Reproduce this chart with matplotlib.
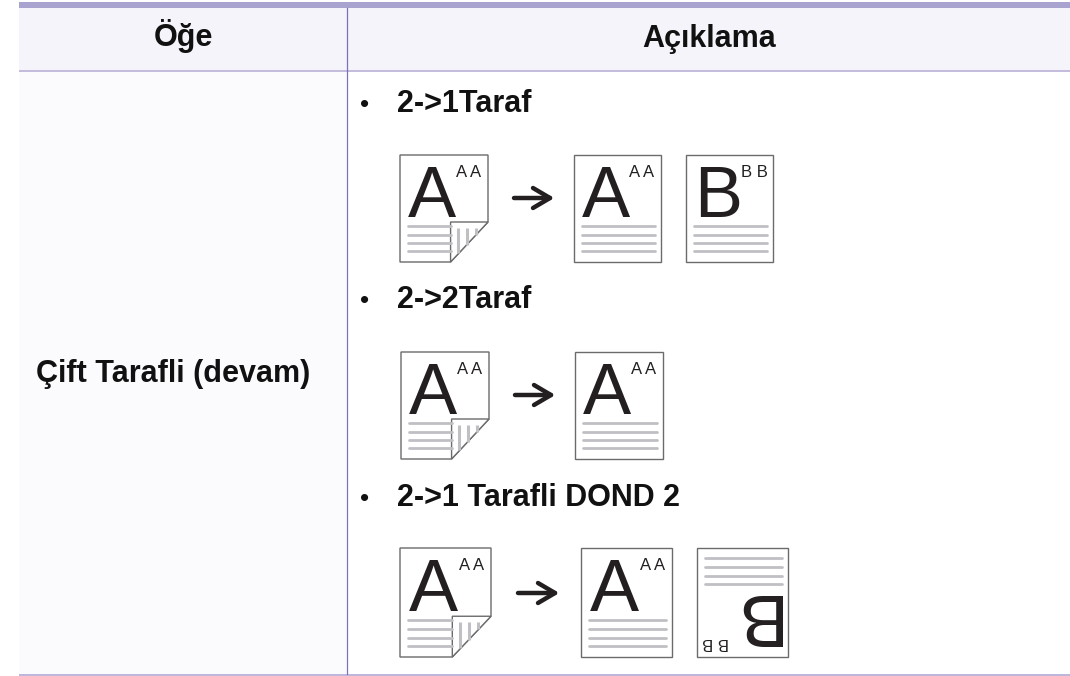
import matplotlib
matplotlib.use("Agg")
import matplotlib.pyplot as plt
from matplotlib.patches import Rectangle, Polygon

plt.rcParams['font.family'] = ['Liberation Sans', 'DejaVu Sans']

headers = ["Öğe", "Açıklama"]
row_label = "Çift Tarafli (devam)"
options = ["2->1Taraf", "2->2Taraf", "2->1 Tarafli DOND 2"]
option_y = [112, 308, 506]

# sayfalar: (x, y, genislik, yukseklik, harf, kivrik, ters)
pages = [
    (400, 155, 88, 107, "A", True, False),
    (574, 155, 87, 107, "A", False, False),
    (686, 155, 87, 107, "B", False, False),
    (401, 352, 88, 107, "A", True, False),
    (575, 352, 88, 107, "A", False, False),
    (400, 548, 91, 109, "A", True, False),
    (581, 548, 91, 109, "A", False, False),
    (697, 548, 91, 109, "B", False, True),
]
arrows = [(514, 198, 550), (515, 395, 551), (518, 593, 555)]

EDGE = "#6b6b6b"
LINE = "#c0c0c4"
INK = "#231f20"

fig = plt.figure(figsize=(10.7, 6.76), dpi=100)
ax = fig.add_axes([0, 0, 1, 1])
ax.set_xlim(0, 1070)
ax.set_ylim(676, 0)
ax.axis("off")

# tablo
ax.add_patch(Rectangle((19, 8), 1051, 62, fc="#f4f4fa", ec="none"))
ax.add_patch(Rectangle((19, 72), 327, 602, fc="#fbfbfe", ec="none"))
ax.add_patch(Rectangle((19, 2), 1051, 6, fc="#a9a3cf", ec="none"))
ax.add_patch(Rectangle((19, 70), 1051, 2, fc="#c3bcdc", ec="none"))
ax.add_patch(Rectangle((19, 674), 1051, 2, fc="#bdb7dc", ec="none"))
ax.plot([346.5, 346.5], [8, 674], color="#7b6fbe", lw=0.9)

ax.text(183, 46, headers[0], fontsize=22, fontweight="bold", ha="center", va="baseline", color="#111111")
ax.text(709, 47, headers[1], fontsize=22, fontweight="bold", ha="center", va="baseline", color="#111111")
ax.text(310, 382, row_label, fontsize=22, fontweight="bold", ha="right", va="baseline", color="#111111")

for label, y in zip(options, option_y):
    ax.text(365, y, "•", fontsize=19, ha="center", va="baseline", color="#111111")
    ax.text(397, y, label, fontsize=22, fontweight="bold", ha="left", va="baseline", color="#111111")


def draw_page(x, y, w, h, letter, curl, flip):
    sx = w / 87
    sy = h / 107
    fold_w = 37 * sx
    fold_h = 40 * sy
    if curl:
        ax.add_patch(Polygon([(x, y), (x + w, y), (x + w, y + h - fold_h), (x + w - fold_w, y + h), (x, y + h)],
                             closed=True, fc="white", ec=EDGE, lw=1))
    else:
        ax.add_patch(Rectangle((x, y), w, h, fc="white", ec=EDGE, lw=1))

    line_ys = [71, 79.5, 88, 96]
    if flip:
        line_ys = [10, 18.5, 27, 35.5]
    for f in line_ys:
        x2 = x + w - 6 * sx
        if curl:
            x2 = x + w - fold_w
        ax.plot([x + 8 * sx, x2], [y + f * sy, y + f * sy], color=LINE, lw=2, solid_capstyle="round")

    if flip:
        ax.text(x + 53 * sx, y + 64 * sy, letter, fontsize=52 * sy, ha="center", va="center",
                color=INK, rotation=180, fontweight="normal")
        ax.text(x + 18 * sx, y + 93 * sy, letter + " " + letter, fontsize=12, ha="center", va="center",
                color=INK, rotation=180)
    else:
        ax.text(x + 32 * sx, y + 62 * sy, letter, fontsize=52 * sy, ha="center", va="baseline", color=INK)
        ax.text(x + 68 * sx, y + 22 * sy, letter + " " + letter, fontsize=12, ha="center", va="baseline", color=INK)

    if curl:
        # kivrik kose
        ax.add_patch(Polygon([(x + w - fold_w, y + h - fold_h), (x + w, y + h - fold_h), (x + w - fold_w, y + h)],
                             closed=True, fc="white", ec=EDGE, lw=1))
        for dx, end in zip([7, 16, 25], [31, 23, 13]):
            xv = x + w - fold_w + dx * sx
            ax.plot([xv, xv], [y + h - fold_h + 6 * sy, y + h - fold_h + end * sy], color=LINE, lw=2.2,
                    solid_capstyle="butt")


for p in pages:
    draw_page(*p)

for x1, y, x2 in arrows:
    ax.plot([x1, x2], [y, y], color=INK, lw=3.2, solid_capstyle="round")
    ax.plot([x2 - 17, x2, x2 - 17], [y - 10, y, y + 10], color=INK, lw=3.2,
            solid_capstyle="round", solid_joinstyle="round")

fig.savefig("out.png", dpi=100)
